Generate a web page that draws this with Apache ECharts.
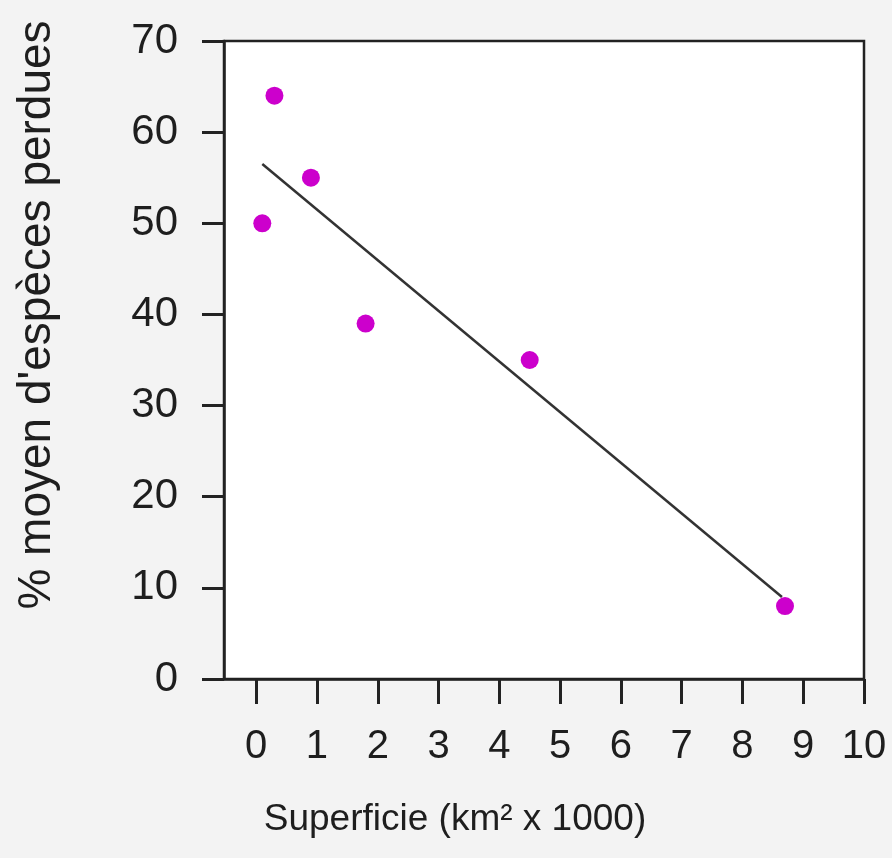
<!DOCTYPE html>
<html>
<head>
<meta charset="utf-8">
<script src="https://cdn.jsdelivr.net/npm/echarts@6/dist/echarts.min.js"></script>
<style>
  html, body { margin: 0; padding: 0; background: #f3f3f3; }
  #chart { width: 892px; height: 858px; }
</style>
</head>
<body>
<div id="chart"></div>
<script>
// superficie (km² x 1000) et % moyen d'espèces perdues
var superficie = [0.1, 0.3, 0.9, 1.8, 4.5, 8.7];
var especesPerdues = [50, 64, 55, 39, 35, 8];
// droite de tendance (extrémités)
var trendX = [0.1, 8.65];
var trendY = [56.5, 9];
var xTicks = [0, 1, 2, 3, 4, 5, 6, 7, 8, 9, 10];

var points = superficie.map(function (x, i) { return [x, especesPerdues[i]]; });
var trend = trendX.map(function (x, i) { return [x, trendY[i]]; });

var myChart = echarts.init(document.getElementById('chart'));
var textColor = '#1e1e1e';
var font = 'Liberation Sans, Arial, sans-serif';

var option = {
  backgroundColor: '#f3f3f3',
  animation: false,
  grid: {
    left: 224,
    right: 28,
    top: 41,
    bottom: 179,
    show: true,
    backgroundColor: '#ffffff',
    borderColor: '#222',
    borderWidth: 2.5
  },
  xAxis: {
    type: 'value',
    min: -0.53,
    max: 10,
    name: 'Superficie (km² x 1000)',
    nameLocation: 'middle',
    nameGap: 122,
    nameTextStyle: {
      color: textColor,
      fontSize: 37,
      fontFamily: font,
      padding: [0, 178, 0, 0]
    },
    splitLine: { show: false },
    axisLine: { onZero: false, lineStyle: { color: '#222', width: 2.5 } },
    axisTick: {
      customValues: xTicks,
      length: 25,
      lineStyle: { color: '#222', width: 3 }
    },
    axisLabel: {
      customValues: xTicks,
      margin: 48,
      color: textColor,
      fontSize: 40,
      fontFamily: font
    }
  },
  yAxis: {
    type: 'value',
    min: 0,
    max: 70,
    interval: 10,
    name: "% moyen d'espèces perdues",
    nameLocation: 'middle',
    nameGap: 164,
    nameTextStyle: {
      color: textColor,
      fontSize: 46,
      fontFamily: font,
      padding: [0, 0, 0, 90]
    },
    splitLine: { show: false },
    axisLine: { show: true, onZero: false, lineStyle: { color: '#222', width: 2.5 } },
    axisTick: {
      show: true,
      length: 22,
      lineStyle: { color: '#222', width: 3 }
    },
    axisLabel: {
      margin: 46,
      color: textColor,
      fontSize: 42,
      fontFamily: font
    }
  },
  series: [
    {
      name: 'tendance',
      type: 'line',
      data: trend,
      symbol: 'none',
      lineStyle: { color: '#333', width: 2.5 },
      z: 2
    },
    {
      name: 'îles',
      type: 'scatter',
      data: points,
      symbolSize: 18,
      itemStyle: { color: '#cc00cc', opacity: 1 },
      z: 3
    }
  ]
};
myChart.setOption(option);
</script>
</body>
</html>
